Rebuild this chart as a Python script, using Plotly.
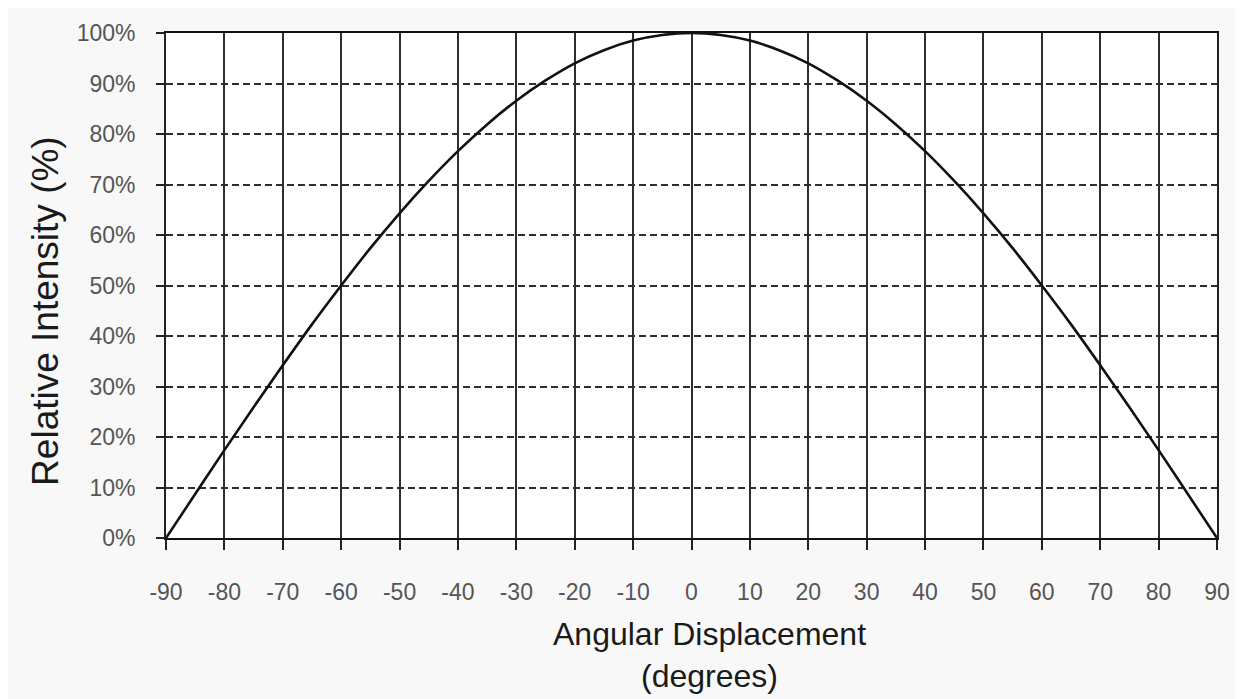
import plotly.graph_objects as go

# Angular displacement (degrees) and relative intensity (%)
angle_deg = [-90, -85, -80, -75, -70, -65, -60, -55, -50, -45, -40, -35, -30, -25, -20, -15, -10, -5,
             0, 5, 10, 15, 20, 25, 30, 35, 40, 45, 50, 55, 60, 65, 70, 75, 80, 85, 90]
intensity_pct = [0, 8.7, 17.4, 25.9, 34.2, 42.3, 50, 57.4, 64.3, 70.7, 76.6, 81.9, 86.6, 90.6, 94, 96.6, 98.5, 99.6,
                 100, 99.6, 98.5, 96.6, 94, 90.6, 86.6, 81.9, 76.6, 70.7, 64.3, 57.4, 50, 42.3, 34.2, 25.9, 17.4, 8.7, 0]

x_ticks = list(range(-90, 91, 10))
x_tick_text = [str(v) for v in x_ticks]          # plain hyphen minus, as in the original
y_ticks = list(range(0, 101, 10))
y_tick_text = [f"{v}%" for v in y_ticks]

x_title = "Angular Displacement<br>(degrees)"
y_title = "Relative Intensity (%)"

font_family = "Liberation Sans, Arial, sans-serif"

fig = go.Figure()
fig.add_trace(go.Scatter(
    x=angle_deg, y=intensity_pct, mode="lines",
    line=dict(color="#111111", width=2.6, shape="spline", smoothing=1.0),
    showlegend=False, hoverinfo="x+y",
))

fig.update_layout(
    width=1235, height=691,
    margin=dict(l=158, r=26, t=23, b=161),
    paper_bgcolor="#f8f8f8",
    plot_bgcolor="#ffffff",
    font=dict(family=font_family, color="#444444"),
    xaxis=dict(
        range=[-90, 90], tickmode="array", tickvals=x_ticks, ticktext=x_tick_text,
        ticks="outside", ticklen=10, tickwidth=1.5, tickcolor="#222222",
        tickfont=dict(size=23, color="#555555"),
        ticklabelstandoff=22,
        showgrid=True, gridcolor="#2e2e2e", gridwidth=1.6,
        showline=True, linecolor="#111111", linewidth=2.2, mirror=True,
        zeroline=False,
    ),
    yaxis=dict(
        range=[0, 100], tickmode="array", tickvals=y_ticks, ticktext=y_tick_text,
        ticks="outside", ticklen=8, tickwidth=1.5, tickcolor="#222222",
        tickfont=dict(size=23, color="#555555"),
        ticklabelstandoff=16,
        showgrid=True, gridcolor="#2e2e2e", gridwidth=1.5, griddash="7px,4px",
        showline=True, linecolor="#222222", linewidth=1.8, mirror=True,
        zeroline=False,
    ),
    annotations=[
        dict(text=x_title, xref="paper", yref="paper", x=0.5167, y=-0.2308,
             xanchor="center", yanchor="middle", showarrow=False,
             font=dict(size=32, color="#1a1a1a", family=font_family)),
        dict(text=y_title, xref="paper", yref="paper", x=-0.1142, y=0.4497,
             xanchor="center", yanchor="middle", showarrow=False, textangle=-90,
             font=dict(size=37, color="#1a1a1a", family=font_family)),
    ],
)

fig.write_html("out.html")
